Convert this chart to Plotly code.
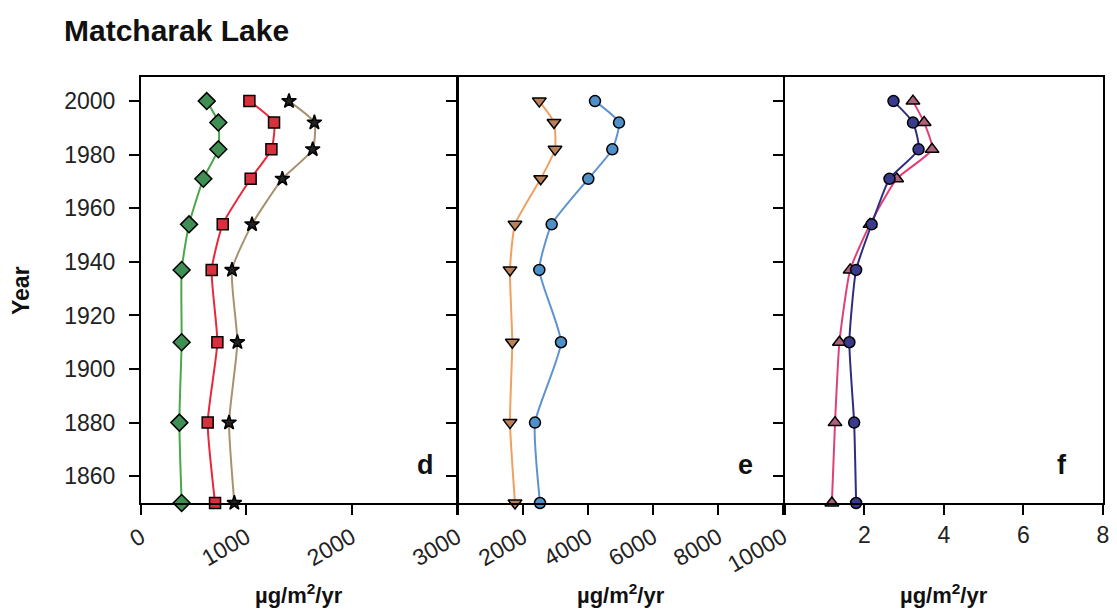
import plotly.graph_objects as go
from plotly.subplots import make_subplots

years = [2000, 1992, 1982, 1971, 1954, 1937, 1910, 1880, 1850]

# panel d
d_green = [624, 734, 734, 592, 456, 386, 386, 364, 386]
d_red = [1029, 1263, 1238, 1041, 776, 671, 725, 633, 703]
d_tan = [1405, 1646, 1630, 1342, 1054, 864, 915, 836, 886]
# panel e
e_orange = [2502, 2954, 2985, 2544, 1754, 1600, 1671, 1600, 1754]
e_blue = [4215, 4954, 4748, 4010, 2882, 2502, 3169, 2369, 2523]
# panel f
f_navy = [2.73, 3.22, 3.36, 2.63, 2.18, 1.79, 1.62, 1.74, 1.79]
f_pink = [3.22, 3.50, 3.70, 2.81, 2.14, 1.64, 1.37, 1.26, 1.18]

d_ticks = [0, 1000, 2000, 3000]
d_text = ["0", "1000", "2000", "3000"]
e_ticks = [0, 2000, 4000, 6000, 8000, 10000]
e_text = ["", "2000", "4000", "6000", "8000", "10000"]
f_ticks = [0, 2, 4, 6, 8]
f_text = ["", "2", "4", "6", "8"]
y_ticks = [1860, 1880, 1900, 1920, 1940, 1960, 1980, 2000]

FONT = "Liberation Sans, Arial, sans-serif"
TICKSIZE = 23

fig = make_subplots(rows=1, cols=3, shared_yaxes=False, horizontal_spacing=0)

def add(col, x, line_color, sym, fill, size):
    fig.add_trace(go.Scatter(
        x=x, y=years, mode="lines+markers",
        line=dict(color=line_color, width=2, shape="spline", smoothing=0.5),
        marker=dict(symbol=sym, color=fill, size=size, line=dict(color="black", width=1.5)),
        cliponaxis=False, showlegend=False), row=1, col=col)

add(1, d_green, "#4aa84a", "diamond", "#3f8f55", 13)
add(1, d_red, "#e8283a", "square", "#d8303c", 11)
add(1, d_tan, "#a8926e", "star", "#222222", 11)
add(2, e_orange, "#f0a060", "triangle-down", "#b9805a", 12)
add(2, e_blue, "#5f93d0", "circle", "#4f90c8", 11)
add(3, f_pink, "#e0407a", "triangle-up", "#b0607a", 12)
add(3, f_navy, "#2e2e80", "circle", "#3a3a8c", 11)

fig.update_layout(
    xaxis=dict(domain=[0, 0.3285]),
    xaxis2=dict(domain=[0.3295, 0.6674]),
    xaxis3=dict(domain=[0.6694, 1.0]),
)

xcommon = dict(showline=True, linecolor="black", linewidth=2, mirror=True,
               ticks="outside", ticklen=10, tickwidth=2, tickcolor="black",
               showgrid=False, zeroline=False, automargin=False,
               tickfont=dict(family=FONT, size=TICKSIZE, color="#222"))
fig.update_xaxes(range=[0, 3000], tickvals=d_ticks, ticktext=d_text, tickangle=-30, row=1, col=1, **xcommon)
fig.update_xaxes(range=[0, 10000], tickvals=e_ticks, ticktext=e_text, tickangle=-30, row=1, col=2, **xcommon)
fig.update_xaxes(range=[0, 8], tickvals=f_ticks, ticktext=f_text, tickangle=0, row=1, col=3, **xcommon)

ycommon = dict(range=[1850, 2009], showline=True, linecolor="black", linewidth=2, mirror=True,
               ticks="outside", ticklen=10, tickwidth=2, tickcolor="black", tickvals=y_ticks,
               showgrid=False, zeroline=False, automargin=False,
               tickfont=dict(family=FONT, size=TICKSIZE, color="#222"))
fig.update_yaxes(showticklabels=True, ticklabelstandoff=9, row=1, col=1, **ycommon)
fig.update_yaxes(showticklabels=False, row=1, col=2, **ycommon)
fig.update_yaxes(showticklabels=False, row=1, col=3, **ycommon)

# page body has an 8px margin, so the figure is sized/placed to compensate
OFF = 8
PLOT_L, PLOT_T, PLOT_W, PLOT_H = 141, 77, 962, 426
W, H = 1117 - OFF, 613 - OFF
fig.update_layout(
    width=W, height=H,
    margin=dict(l=PLOT_L - OFF, r=W - (PLOT_L - OFF) - PLOT_W,
                t=PLOT_T - OFF, b=H - (PLOT_T - OFF) - PLOT_H),
    paper_bgcolor="white", plot_bgcolor="white",
    font=dict(family=FONT, color="#111"),
)

PW, PH = float(PLOT_W), float(PLOT_H)
BOT = PLOT_T + PLOT_H
fig.add_annotation(text="<b>Matcharak Lake</b>", xref="paper", yref="paper",
                   x=(62 - PLOT_L) / PW, y=(BOT - 30) / PH, xanchor="left", yanchor="middle", showarrow=False,
                   font=dict(family=FONT, size=30, color="#111"))
fig.add_annotation(text="<b>Year</b>", xref="paper", yref="paper",
                   x=(21 - PLOT_L) / PW, y=(BOT - 291) / PH, xanchor="center", yanchor="middle",
                   textangle=-90, showarrow=False, font=dict(family=FONT, size=23, color="#111"))
for cx in [299, 621, 944]:
    fig.add_annotation(text="<b>µg/m<sup>2</sup>/yr</b>", xref="paper", yref="paper",
                       x=(cx - PLOT_L) / PW, y=-(594 - BOT) / PH, xanchor="center", yanchor="middle",
                       showarrow=False, font=dict(family=FONT, size=22, color="#111"))
for xr, xv, lab in [("x", 2700, "d"), ("x2", 8830, "e"), ("x3", 6.98, "f")]:
    fig.add_annotation(text=f"<b>{lab}</b>", xref=xr, yref="y", x=xv, y=1864,
                       xanchor="center", yanchor="middle", showarrow=False,
                       font=dict(family=FONT, size=27, color="#111"))

fig.write_html("out.html")
